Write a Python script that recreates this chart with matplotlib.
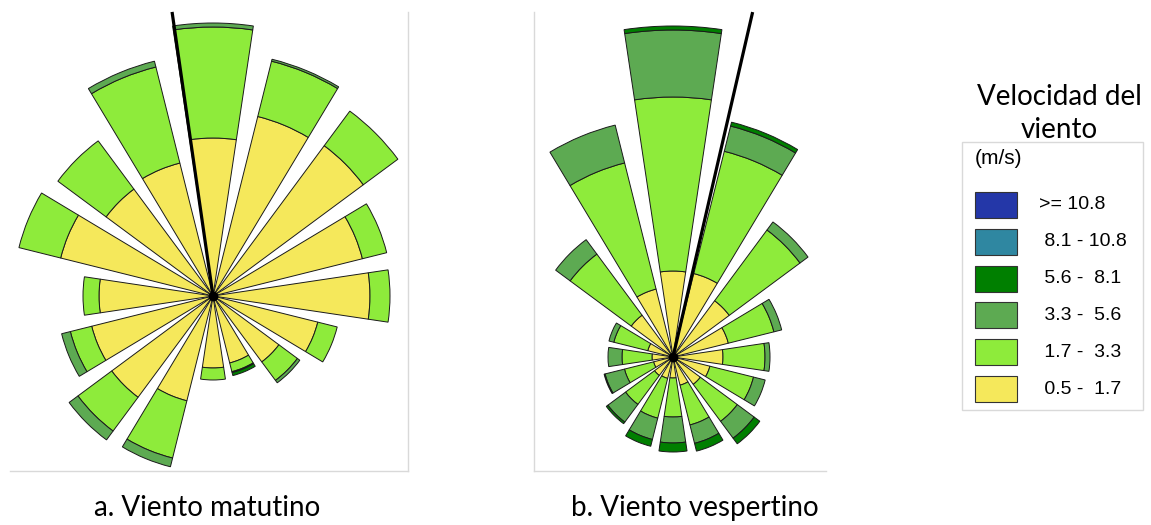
"""Two wind roses (morning / afternoon wind) with a shared speed legend."""

import matplotlib
matplotlib.use("Agg")
import matplotlib.pyplot as plt
import numpy as np
from matplotlib.lines import Line2D
from matplotlib.patches import Rectangle

W_PX, H_PX = 1151, 525

# 16 directions, clockwise from north
directions = ["N", "NNE", "NE", "ENE", "E", "ESE", "SE", "SSE",
              "S", "SSW", "SW", "WSW", "W", "WNW", "NW", "NNW"]
direction_deg = np.arange(16) * 22.5

speed_labels = [">= 10.8", " 8.1 - 10.8", " 5.6 -  8.1", " 3.3 -  5.6", " 1.7 -  3.3", " 0.5 -  1.7"]
speed_colors = ["#2437A8", "#2F87A1", "#007F00", "#5DAA52", "#8EEB3B", "#F5E85B"]

# frequency per speed class (stack order: 0.5-1.7, 1.7-3.3, 3.3-5.6, 5.6-8.1)
morning_05_17 = [15.8, 18.5, 18.7, 15.4, 15.7, 10.8, 8.2, 6.9, 7.2, 10.8, 12.6, 12.5, 11.4, 15.7, 13.3, 13.7]
morning_17_33 = [11.1, 5.7, 4.3, 2.5, 2.0, 2.0, 2.3, 0.9, 1.2, 5.9, 4.2, 2.2, 1.6, 4.3, 6.0, 9.9]
morning_33_56 = [0.4, 0.2, 0.0, 0.0, 0.0, 0.0, 0.3, 0.1, 0.0, 0.9, 1.1, 0.9, 0.0, 0.0, 0.0, 0.6]
morning_56_81 = [0.0, 0.0, 0.0, 0.0, 0.0, 0.0, 0.0, 0.3, 0.0, 0.0, 0.0, 0.0, 0.0, 0.0, 0.0, 0.0]

evening_05_17 = [8.6, 8.6, 7.0, 5.7, 5.0, 3.8, 3.4, 2.9, 2.1, 2.2, 2.3, 2.0, 2.1, 2.6, 5.2, 7.0]
evening_17_33 = [17.4, 12.6, 8.8, 4.7, 4.2, 4.5, 4.6, 4.1, 3.9, 4.1, 3.6, 3.0, 3.0, 3.5, 7.6, 13.0]
evening_33_56 = [6.7, 2.6, 1.0, 0.8, 0.5, 1.2, 2.1, 1.9, 2.6, 2.2, 2.2, 2.0, 1.4, 0.5, 1.8, 3.9]
evening_56_81 = [0.4, 0.4, 0.0, 0.0, 0.0, 0.0, 0.7, 0.8, 0.9, 0.7, 0.2, 0.1, 0.0, 0.0, 0.0, 0.0]

# black direction line (degrees from north, length)
morning_line = (-8.2, 28.7)
evening_line = (13.0, 35.4)

panel_titles = ["a. Viento matutino", "b. Viento vespertino"]


def fx(x):
    return x / W_PX


def fy(y):
    return 1 - y / H_PX


def draw_rose(fig, cx, cy, stacks, line):
    """Polar stacked bars centred on pixel (cx, cy); 1 unit = 10 px."""
    R = 400
    ax = fig.add_axes([fx(cx - R), fy(cy + R), 2 * R / W_PX, 2 * R / H_PX],
                      projection="polar")
    ax.set_theta_zero_location("N")
    ax.set_theta_direction(-1)
    ax.set_ylim(0, R / 10)
    ax.set_facecolor("none")
    ax.set_axis_off()

    theta = np.deg2rad(direction_deg)
    width = np.deg2rad(17)
    bottom = np.zeros(16)
    colors = speed_colors[::-1]
    for vals, col in zip(stacks, colors):
        vals = np.array(vals)
        keep = vals > 0
        ax.bar(theta[keep], vals[keep], width=width, bottom=bottom[keep], color=col,
               edgecolor="#1a1a1a", linewidth=0.7)
        bottom = bottom + vals

    ang, length = line
    ax.plot([np.deg2rad(ang)] * 2, [0, length], color="black", lw=2.3,
            solid_capstyle="butt")
    ax.plot([0], [0], "o", color="black", ms=6)
    return ax


fig = plt.figure(figsize=(W_PX / 100, H_PX / 100), dpi=100)

draw_rose(fig, 213, 296,
          [morning_05_17, morning_17_33, morning_33_56, morning_56_81], morning_line)
draw_rose(fig, 673, 357,
          [evening_05_17, evening_17_33, evening_33_56, evening_56_81], evening_line)

# panel frames (light grey)
frame = dict(color="#d9d9d9", lw=1.0, transform=fig.transFigure)
fig.add_artist(Line2D([fx(408), fx(408)], [fy(12), fy(471)], **frame))
fig.add_artist(Line2D([fx(10), fx(408)], [fy(471), fy(471)], **frame))
fig.add_artist(Line2D([fx(534), fx(534)], [fy(12), fy(471)], **frame))
fig.add_artist(Line2D([fx(534), fx(826)], [fy(471), fy(471)], **frame))

fig.text(fx(207), fy(508), panel_titles[0], ha="center", va="center",
         fontsize=20, family="Lato")
fig.text(fx(695), fy(508), panel_titles[1], ha="center", va="center",
         fontsize=20, family="Lato")

# legend
fig.text(fx(1059), fy(97), "Velocidad del", ha="center", va="center",
         fontsize=20, family="Lato")
fig.text(fx(1059), fy(130), "viento", ha="center", va="center",
         fontsize=20, family="Lato")
fig.add_artist(Rectangle((fx(962), fy(410)), fx(1143) - fx(962), fy(142) - fy(410),
                         transform=fig.transFigure, facecolor="white",
                         edgecolor="#d9d9d9", lw=1.0))
fig.text(fx(975), fy(158), "(m/s)", ha="left", va="center",
         fontsize=15, family="Liberation Sans")
for i, (lab, col) in enumerate(zip(speed_labels, speed_colors)):
    top = 192 + i * 36.8
    fig.add_artist(Rectangle((fx(975), fy(top + 26)), fx(1017) - fx(975), 26 / H_PX,
                             transform=fig.transFigure, facecolor=col,
                             edgecolor="#333333", lw=0.8))
    fig.text(fx(1039), fy(top + 13), lab, ha="left", va="center",
             fontsize=14, family="Liberation Sans")

fig.savefig("out.png", dpi=100)
